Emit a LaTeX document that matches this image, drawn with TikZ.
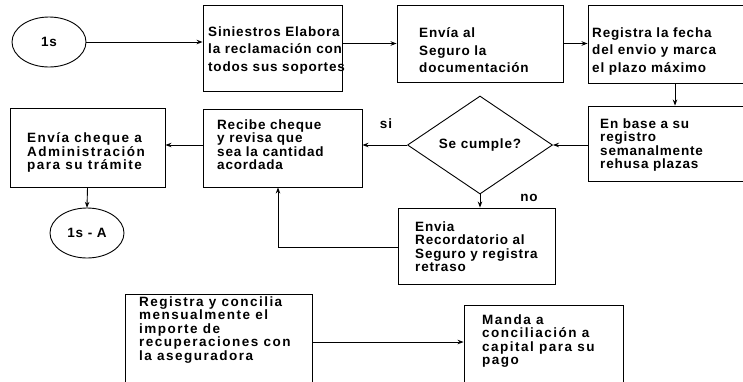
\documentclass[tikz,border=0pt]{standalone}
\usepackage{fontspec}
\setmainfont{Liberation Sans}
\newfontfamily\boxfont{Liberation Sans}[LetterSpace=6]
\newfontfamily\wideboxfont{Liberation Sans}[LetterSpace=11]
\usetikzlibrary{shapes.geometric,fit,arrows.meta}
\begin{document}
\begin{tikzpicture}[x=1pt,y=-1pt,
  every node/.style={inner sep=0pt},
  box/.style={draw, line width=0.9pt, rectangle, inner sep=0pt},
  txt/.style={anchor=north west, align=left, font=\boxfont\bfseries\fontsize{13.5}{13.5}\selectfont},
  widetxt/.style={anchor=north west, align=left, font=\wideboxfont\bfseries\fontsize{13.5}{13.5}\selectfont},
  toptxt/.style={anchor=north west, align=left, font=\boxfont\bfseries\fontsize{13.5}{17.5}\selectfont},
  term/.style={rectangle, minimum width=74pt, minimum height=50pt, font=\boxfont\bfseries\fontsize{13.5}{13.5}\selectfont},
  termline/.style={line width=0.9pt},
  lbl/.style={font=\boxfont\bfseries\fontsize{13.5}{13.5}\selectfont},
  arr/.style={line width=0.9pt, -{Stealth[length=6pt,width=4.5pt]}},
  ln/.style={line width=0.9pt}]
\useasboundingbox (0,0) rectangle (743,381);
\fill[white] (0,0) rectangle (743,381);
\clip (0,0) rectangle (743,381);

% terminals
\node[term] (e1) at (49,42) {1s};
\draw[termline] (e1.center) ellipse [x radius=37pt, y radius=25pt];
\node[term] (e2) at (87,233) {1s - A};
\draw[termline] (e2.center) ellipse [x radius=37pt, y radius=25pt];

% boxes
\node[box, fit={(203,5) (342,91)}] (b1) {};
\node[box, fit={(397,5) (563,82)}] (b2) {};
\node[box, fit={(588,5) (760,83)}] (b3) {};
\node[box, fit={(588,106) (760,181)}] (b4) {};
\node[box, fit={(203,109) (362,187)}] (rec) {};
\node[box, fit={(10,108) (165,187)}] (chq) {};
\node[box, fit={(398,208) (555,284)}] (ror) {};
\node[box, fit={(125,294) (312,400)}] (reg) {};
\node[box, fit={(464,305) (623,400)}] (man) {};

% decision
\node[draw, line width=0.9pt, diamond, minimum width=145pt, minimum height=98pt, lbl] (d) at (480,145) {Se cumple?};

% texts
\node[toptxt] (t1) at (208,26.5) {Siniestros Elabora\\la reclamación con\\todos sus soportes};
\node[toptxt] (t2) at (419,27.5) {Envía al\\Seguro la\\documentación};
\node[toptxt] (t3) at (592,27.5) {Registra la fecha\\del envio y marca\\el plazo máximo};
\node[txt] (t4) at (600,118.5) {En base a su\\registro\\semanalmente\\rehusa plazas};
\node[txt] (t5) at (217,119.5) {Recibe cheque\\y revisa que\\sea la cantidad\\acordada};
\node[widetxt] (t6) at (27,132.5) {Envía cheque a\\Administración\\para su trámite};
\node[txt] (t7) at (415,221.5) {Envia\\Recordatorio al\\Seguro y registra\\retraso};
\node[widetxt] (t8) at (139,296.5) {Registra y concilia\\mensualmente el\\importe de\\recuperaciones con\\la aseguradora};
\node[widetxt] (t9) at (482,314.5) {Manda a\\conciliación a\\capital para su\\pago};

% labels
\node[lbl] (si) at (386,124) {si};
\node[lbl] (no) at (529,198) {no};

% helper coordinates
\coordinate (x34) at (675,0);
\coordinate (xback) at (278,0);
\coordinate (yback) at (0,247);
\coordinate (ybot) at (0,342);

% connectors
\draw[arr] (e1.east) -- (e1.east -| b1.west);
\draw[arr] (b2.west -| b1.east) -- (b2.west);
\draw[arr] (b2.east) -- (b2.east -| b3.west);
\draw[arr] (x34 |- b3.south) -- (x34 |- b4.north);
\draw[arr] (b4.west |- d.east) -- (d.east);
\draw[arr] (d.west) -- (d.west -| rec.east);
\draw[arr] (rec.west |- d.west) -- (chq.east |- d.west);
\draw[arr] (chq.south) -- (e2.north);
\draw[arr] (d.south) -- (d.south |- ror.north);
\draw[arr] (ror.west |- yback) -| (xback |- rec.south);
\draw[arr] (reg.east |- ybot) -- (man.west |- ybot);
\end{tikzpicture}
\end{document}
